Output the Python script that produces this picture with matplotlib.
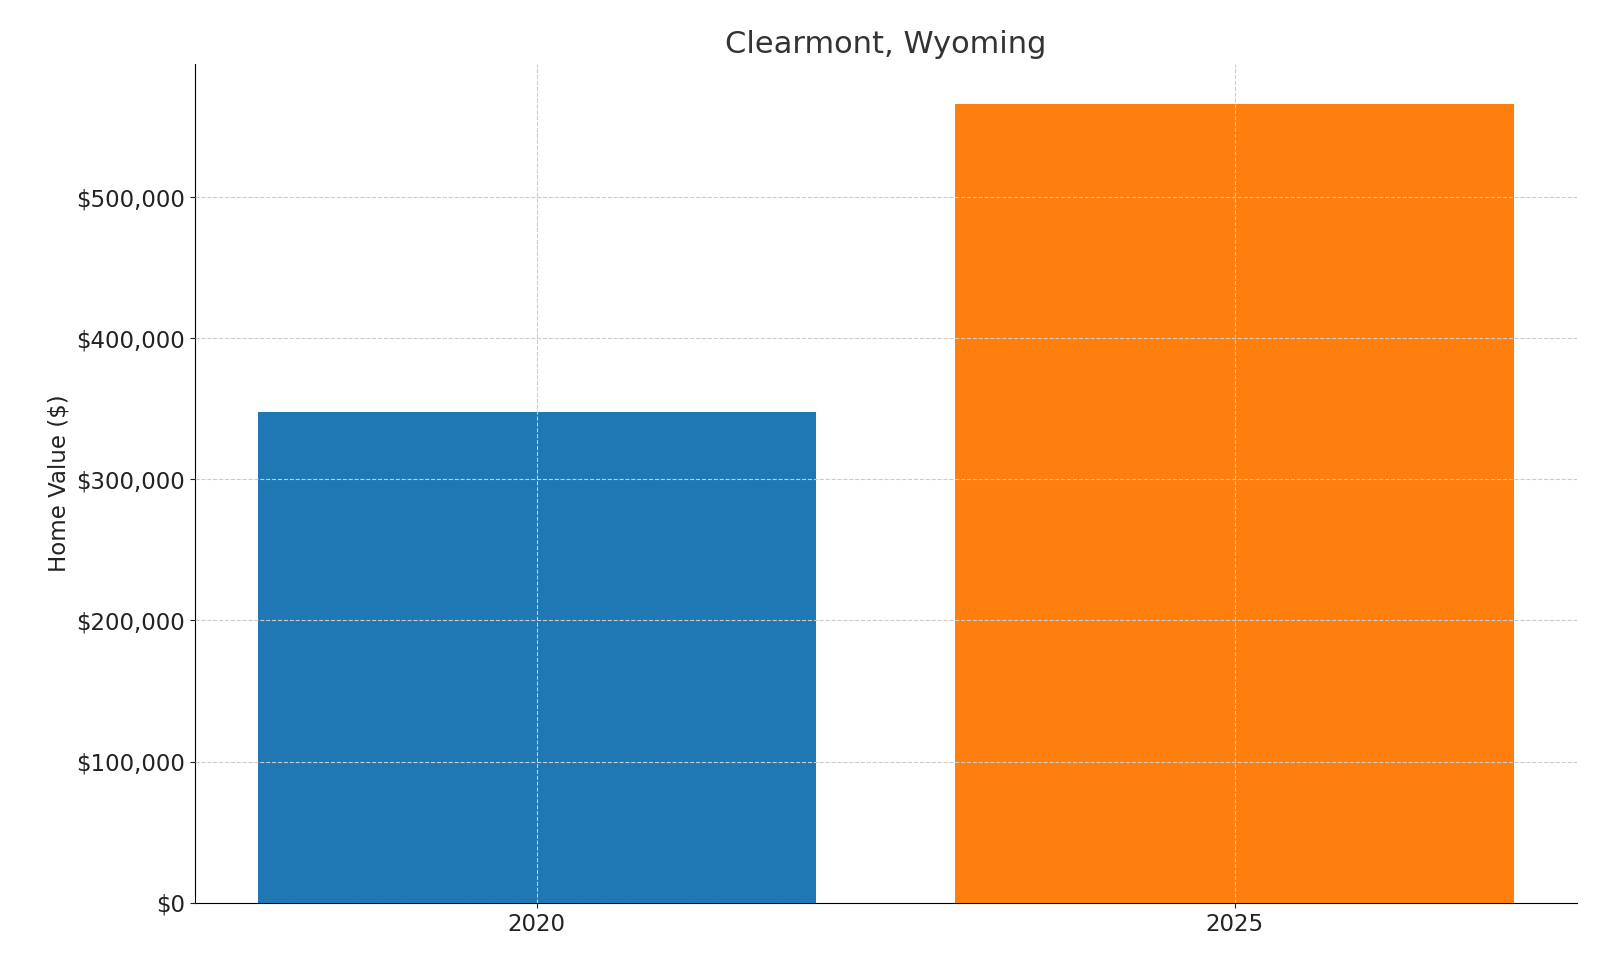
import matplotlib
matplotlib.use("Agg")
import matplotlib.pyplot as plt
from matplotlib.ticker import FuncFormatter

years = ["2020", "2025"]
values = [348000, 566000]
colors = ["#1f77b4", "#ff7f0e"]

fig = plt.figure(figsize=(16, 9.6), dpi=100)
ax = fig.add_axes([191/1568, 1-884/940, (1545-191)/1568, (884-63)/940])
ax.bar(range(len(years)), values, width=0.8, color=colors, zorder=2)
ax.set_xticks(range(len(years)))
ax.set_xticklabels(years)
ax.set_xlim(-0.49, 1.49)
ax.set_ylim(0, 594000)
ax.yaxis.set_major_formatter(FuncFormatter(lambda v, p: f"${v:,.0f}"))
ax.grid(True, linestyle="--", color="#cccccc", linewidth=0.8, zorder=0)
ax.set_axisbelow(False)
for s in ["top", "right"]:
    ax.spines[s].set_visible(False)
ax.tick_params(labelsize=16.5, colors="#222222")
ax.set_ylabel("Home Value ($)", fontsize=16.5, color="#222222")
ax.set_title("Clearmont, Wyoming", fontsize=22, color="#333333", pad=8)
fig.savefig("out.png", dpi=100)
